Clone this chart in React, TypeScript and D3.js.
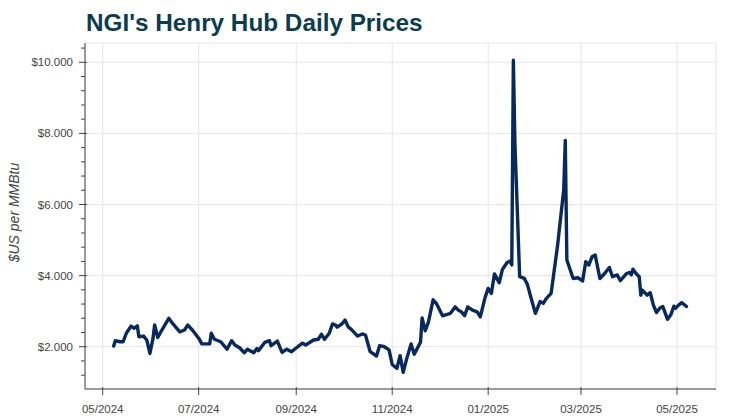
import React from "react";
import * as d3 from "d3";

const dates: string[] = [
  "2024-05-08","2024-05-09","2024-05-12","2024-05-14","2024-05-16","2024-05-19","2024-05-21","2024-05-23","2024-05-24","2024-05-27",
  "2024-05-29","2024-05-31","2024-06-02","2024-06-03","2024-06-05","2024-06-07","2024-06-12","2024-06-14","2024-06-19","2024-06-22",
  "2024-06-24","2024-06-27","2024-07-01","2024-07-03","2024-07-08","2024-07-09","2024-07-11","2024-07-15","2024-07-19","2024-07-22",
  "2024-07-24","2024-07-27","2024-07-30","2024-08-01","2024-08-05","2024-08-07","2024-08-08","2024-08-12","2024-08-15","2024-08-16",
  "2024-08-20","2024-08-23","2024-08-26","2024-08-29","2024-09-02","2024-09-05","2024-09-07","2024-09-12","2024-09-15","2024-09-17",
  "2024-09-19","2024-09-22","2024-09-24","2024-09-26","2024-09-27","2024-09-30","2024-10-02","2024-10-04","2024-10-06","2024-10-10",
  "2024-10-13","2024-10-15","2024-10-18","2024-10-22","2024-10-24","2024-10-27","2024-10-30","2024-11-01","2024-11-04","2024-11-06",
  "2024-11-08","2024-11-10","2024-11-13","2024-11-15","2024-11-19","2024-11-20","2024-11-22","2024-11-24","2024-11-27","2024-11-29",
  "2024-12-03","2024-12-06","2024-12-08","2024-12-09","2024-12-11","2024-12-13","2024-12-15","2024-12-17","2024-12-19","2024-12-22",
  "2024-12-25","2024-12-27","2024-12-30","2025-01-01","2025-01-03","2025-01-05","2025-01-08","2025-01-10","2025-01-13","2025-01-15",
  "2025-01-16","2025-01-17","2025-01-18","2025-01-21","2025-01-24","2025-01-26","2025-01-28","2025-01-31","2025-02-03","2025-02-05",
  "2025-02-07","2025-02-10","2025-02-12","2025-02-14","2025-02-18","2025-02-19","2025-02-20","2025-02-24","2025-02-27","2025-03-02",
  "2025-03-04","2025-03-06","2025-03-08","2025-03-10","2025-03-13","2025-03-16","2025-03-19","2025-03-21","2025-03-24","2025-03-26",
  "2025-03-30","2025-04-01","2025-04-02","2025-04-03","2025-04-05","2025-04-07","2025-04-08","2025-04-09","2025-04-12","2025-04-14",
  "2025-04-16","2025-04-18","2025-04-20","2025-04-22","2025-04-25","2025-04-27","2025-04-29","2025-04-30","2025-05-02","2025-05-04",
  "2025-05-07"
];

const prices: number[] = [
  2.02,2.17,2.14,2.14,2.38,2.58,2.52,2.59,2.28,2.30,
  2.19,1.81,2.24,2.61,2.26,2.42,2.80,2.68,2.42,2.47,
  2.61,2.47,2.24,2.08,2.08,2.38,2.21,2.14,1.93,2.17,
  2.05,1.97,1.83,1.93,1.83,1.95,1.89,2.12,2.17,2.03,
  2.16,1.84,1.93,1.86,2.00,2.10,2.05,2.19,2.21,2.35,
  2.21,2.38,2.64,2.61,2.55,2.64,2.75,2.56,2.49,2.30,
  2.36,2.33,1.86,1.74,2.03,2.00,1.91,1.50,1.39,1.75,
  1.28,1.63,2.08,1.79,2.13,2.81,2.45,2.69,3.32,3.22,
  2.87,2.91,2.94,3.00,3.12,3.03,2.98,2.87,3.12,3.03,
  2.98,2.84,3.38,3.64,3.50,4.05,3.80,4.17,4.37,4.41,
  4.30,10.06,7.72,3.97,3.92,3.74,3.41,2.94,3.27,3.22,
  3.36,3.50,4.16,4.81,6.41,7.80,4.44,3.92,3.94,3.85,
  4.39,4.30,4.53,4.58,3.92,4.06,4.23,3.97,4.02,3.86,
  4.06,4.09,4.02,4.18,4.06,3.97,3.45,3.59,3.45,3.52,
  3.17,2.96,3.08,3.13,2.77,2.89,3.14,3.08,3.17,3.24,
  3.13
];

const yMajorTicks: number[] = [2, 4, 6, 8, 10];
const titleText = "NGI's Henry Hub Daily Prices";
const yLabel = "$US per MMBtu";

const W = 748;
const H = 418;
const left = 85;
const right = 716;
const top = 43;
const bottom = 389;

const parse = d3.timeParse("%Y-%m-%d");

export default function App() {
  const data = dates.map((d, i) => ({ date: parse(d) as Date, value: prices[i] }));
  const x = d3
    .scaleTime()
    .domain([new Date(2024, 3, 19, 18), new Date(2025, 4, 25, 19)])
    .range([left, right]);
  const y = d3.scaleLinear().domain([0.811, 10.543]).range([bottom, top]);

  const xTicks = x.ticks(d3.timeMonth.every(2) as d3.TimeInterval);
  const fmtX = d3.timeFormat("%m/%Y");
  const fmtY = d3.format("$.3f");

  const minorTicks: number[] = [];
  for (let k = 0; k < 40; k++) {
    const v = 0.8 + k * 0.4;
    const r = Math.round(v * 10) / 10;
    if (r < 0.811 || r > 10.543) continue;
    if (Math.abs(r / 2 - Math.round(r / 2)) < 1e-6) continue;
    minorTicks.push(r);
  }

  const line = d3
    .line<{ date: Date; value: number }>()
    .x((d) => x(d.date))
    .y((d) => y(d.value));

  const font = "'Liberation Sans', Arial, Helvetica, sans-serif";
  const axisColor = "#444";

  return (
    <div style={{ position: "fixed", left: 0, top: 0 }}>
      <svg width={W} height={H} style={{ display: "block", background: "#fff" }}>
        <rect x={0} y={0} width={W} height={H} fill="#fff" />
        {/* grid */}
        {xTicks.map((t, i) => (
          <line key={"gx" + i} x1={x(t)} x2={x(t)} y1={top} y2={bottom} stroke="#e5e5e5" strokeWidth={1} />
        ))}
        {yMajorTicks.map((t, i) => (
          <line key={"gy" + i} x1={left} x2={right} y1={y(t)} y2={y(t)} stroke="#e5e5e5" strokeWidth={1} />
        ))}
        {/* outline */}
        <rect x={left} y={top} width={right - left} height={bottom - top} fill="none" stroke="#e5e5e5" strokeWidth={1} />

        {/* series */}
        <path d={line(data) || ""} fill="none" stroke="#08295e" strokeWidth={3.4} strokeLinejoin="round" strokeLinecap="round" />

        {/* y axis */}
        <line x1={left} x2={left} y1={top} y2={bottom} stroke={axisColor} strokeWidth={1} />
        {yMajorTicks.map((t, i) => (
          <g key={"yt" + i}>
            <line x1={left - 6} x2={left + 2} y1={y(t)} y2={y(t)} stroke={axisColor} strokeWidth={1} />
            <text x={left - 12} y={y(t)} dy="0.35em" textAnchor="end" fontFamily={font} fontSize={11.5} fill="#444">
              {fmtY(t)}
            </text>
          </g>
        ))}
        {minorTicks.map((t, i) => (
          <line key={"ym" + i} x1={left - 4} x2={left} y1={y(t)} y2={y(t)} stroke={axisColor} strokeWidth={1} />
        ))}
        <text
          transform={`translate(19,212.5) rotate(-90)`}
          textAnchor="middle"
          fontFamily={font}
          fontSize={14}
          fontStyle="italic"
          fill="#444"
        >
          {yLabel}
        </text>

        {/* x axis */}
        <line x1={left} x2={right} y1={bottom} y2={bottom} stroke={axisColor} strokeWidth={1} />
        {xTicks.map((t, i) => (
          <g key={"xt" + i}>
            <line x1={x(t)} x2={x(t)} y1={bottom - 2} y2={bottom + 6} stroke={axisColor} strokeWidth={1} />
            <text x={x(t)} y={bottom + 24} textAnchor="middle" fontFamily={font} fontSize={11.5} fill="#444">
              {fmtX(t)}
            </text>
          </g>
        ))}

        {/* title */}
        <text x={86} y={31} fontFamily={font} fontSize={24.3} fontWeight="bold" fill="#0b3c4f">
          {titleText}
        </text>
      </svg>
    </div>
  );
}
